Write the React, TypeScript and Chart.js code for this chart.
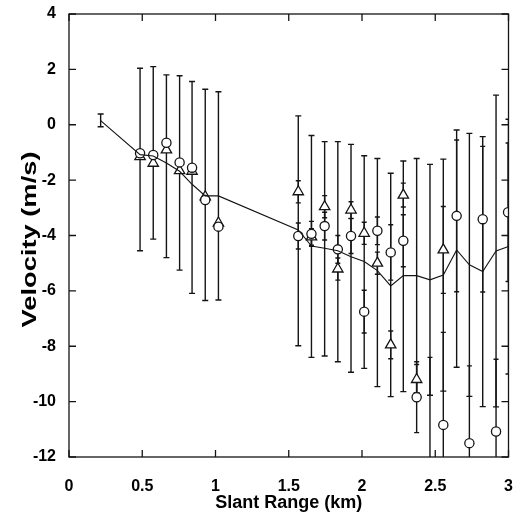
import { useEffect, useRef } from 'react';
import { Chart, registerables } from 'chart.js';

Chart.register(...registerables);

const FONT = '"Liberation Sans", Arial, Helvetica, sans-serif';

// axis ticks
const xTicks = [0, 0.5, 1, 1.5, 2, 2.5, 3];
const yTicks = [-12, -10, -8, -6, -4, -2, 0, 2, 4];
const xTitle = 'Slant Range (km)';
const yTitle = 'Velocity (m/s)';

// mean profile (line) with its error bars
const meanX = [0.216, 0.485, 0.575, 0.665, 0.755, 0.84, 0.93, 1.02, 1.565, 1.655, 1.745, 1.835, 1.925, 2.015, 2.105, 2.196, 2.282, 2.373, 2.464, 2.555, 2.646, 2.733, 2.824, 2.915, 3.0];
const meanY = [0.15, -1.08, -1.13, -1.38, -1.68, -2.15, -2.57, -2.57, -3.8, -4.38, -4.46, -4.55, -4.77, -4.94, -5.27, -5.82, -5.45, -5.45, -5.6, -5.43, -4.52, -5.06, -5.3, -4.56, -4.4];
const meanHigh = [0.39, 2.04, 2.1, 1.8, 1.77, 1.56, 1.28, 1.19, 0.32, -0.39, -0.61, -0.61, -0.71, -1.12, -1.22, -1.75, -1.31, -1.22, -1.43, -1.24, -0.19, -0.31, -0.43, 1.07, 0.2];
const meanLow = [-0.07, -4.55, -4.13, -4.8, -5.25, -6.09, -6.35, -6.33, -7.98, -8.4, -8.35, -8.56, -8.94, -8.8, -9.46, -9.82, -9.64, -9.68, -9.77, -9.62, -8.76, -9.81, -10.18, -10.19, -9.0];

// triangle measurements
const triX = [0.485, 0.575, 0.665, 0.755, 0.84, 0.93, 1.02, 1.565, 1.655, 1.745, 1.835, 1.925, 2.015, 2.105, 2.196, 2.282, 2.373, 2.555];
const triY = [-1.15, -1.39, -0.91, -1.66, -1.68, -2.6, -3.55, -2.42, -4.05, -2.96, -5.21, -3.08, -3.92, -5.0, -7.95, -2.54, -9.2, -4.52];
const triErr = [0, 0, 0, 0, 0, 0, 0, 0.4, 0.3, 0.4, 0.4, 0.3, 0.4, 0.4, 0.5, 0.43, 0.54, 1.57];

// circle measurements
const circX = [0.485, 0.575, 0.665, 0.755, 0.84, 0.93, 1.02, 1.565, 1.655, 1.745, 1.835, 1.925, 2.015, 2.105, 2.196, 2.282, 2.373, 2.464, 2.555, 2.646, 2.733, 2.824, 2.915, 2.997];
const circY = [-1.03, -1.09, -0.65, -1.36, -1.55, -2.72, -3.68, -4.02, -3.94, -3.66, -4.5, -4.02, -6.75, -3.83, -4.61, -4.19, -9.84, -13.2, -10.84, -3.29, -11.5, -3.41, -11.08, -3.16];
const circErr = [0, 0, 0, 0, 0, 0, 0, 0.47, 0.45, 0.5, 0.5, 0.63, 0.77, 0.5, 1.0, 0.94, 1.28, 4.8, 3.34, 2.74, 2.79, 2.63, 2.61, 2.5];

const INK = '#141414';

function drawBar(ctx: CanvasRenderingContext2D, xs: any, ys: any, x: number, hi: number, lo: number, cap: number, lw: number) {
  const px = xs.getPixelForValue(x);
  const pTop = ys.getPixelForValue(hi);
  const pBot = ys.getPixelForValue(lo);
  ctx.lineWidth = lw;
  ctx.beginPath();
  ctx.moveTo(px, pTop);
  ctx.lineTo(px, pBot);
  ctx.moveTo(px - cap, pTop);
  ctx.lineTo(px + cap, pTop);
  ctx.moveTo(px - cap, pBot);
  ctx.lineTo(px + cap, pBot);
  ctx.stroke();
}

const errorBarsPlugin = {
  id: 'errorBars',
  beforeDatasetsDraw(chart: any) {
    const { ctx, chartArea, scales } = chart;
    const xs = scales.x;
    const ys = scales.y;
    ctx.save();
    ctx.beginPath();
    ctx.rect(chartArea.left, chartArea.top, chartArea.right - chartArea.left, chartArea.bottom - chartArea.top);
    ctx.clip();
    ctx.strokeStyle = INK;
    meanX.forEach((x, i) => drawBar(ctx, xs, ys, x, meanHigh[i], meanLow[i], 3, 1.4));
    triX.forEach((x, i) => {
      if (triErr[i] > 0) drawBar(ctx, xs, ys, x, triY[i] + triErr[i], triY[i] - triErr[i], 2.5, 1.4);
    });
    circX.forEach((x, i) => {
      if (circErr[i] > 0) drawBar(ctx, xs, ys, x, circY[i] + circErr[i], circY[i] - circErr[i], 2.5, 1.4);
    });
    ctx.restore();
  },
};

const framePlugin = {
  id: 'frame',
  afterDraw(chart: any) {
    const { ctx, chartArea, scales } = chart;
    const { left, right, top, bottom } = chartArea;
    const xs = scales.x;
    const ys = scales.y;
    const tl = 7;
    ctx.save();
    ctx.strokeStyle = INK;
    ctx.lineWidth = 1.3;
    ctx.strokeRect(left, top, right - left, bottom - top);
    ctx.beginPath();
    xTicks.forEach((v) => {
      const p = xs.getPixelForValue(v);
      ctx.moveTo(p, bottom);
      ctx.lineTo(p, bottom - tl);
      ctx.moveTo(p, top);
      ctx.lineTo(p, top + tl);
    });
    yTicks.forEach((v) => {
      const p = ys.getPixelForValue(v);
      ctx.moveTo(left, p);
      ctx.lineTo(left + tl, p);
      ctx.moveTo(right, p);
      ctx.lineTo(right - tl, p);
    });
    ctx.stroke();
    // y axis title (stretched like the scanned original)
    ctx.fillStyle = '#000';
    ctx.translate(30, (top + bottom) / 2 + 4);
    ctx.rotate(-Math.PI / 2);
    ctx.scale(1.3, 1);
    ctx.font = `bold 21px ${FONT}`;
    ctx.textAlign = 'center';
    ctx.textBaseline = 'middle';
    ctx.fillText(yTitle, 0, 0);
    ctx.restore();
  },
};

export default function App() {
  const ref = useRef<HTMLCanvasElement | null>(null);

  useEffect(() => {
    document.body.style.margin = '0';
    const canvas = ref.current;
    if (!canvas) return;
    const chart = new Chart(canvas, {
      type: 'scatter',
      data: {
        datasets: [
          {
            type: 'scatter',
            label: 'circles',
            data: circX.map((x, i) => ({ x, y: circY[i] })),
            pointStyle: 'circle',
            pointRadius: 4.6,
            pointBackgroundColor: '#ffffff',
            pointBorderColor: INK,
            pointBorderWidth: 1.3,
            order: 1,
          },
          {
            type: 'scatter',
            label: 'triangles',
            data: triX.map((x, i) => ({ x, y: triY[i] })),
            pointStyle: 'triangle',
            pointRadius: 6,
            pointBackgroundColor: '#ffffff',
            pointBorderColor: INK,
            pointBorderWidth: 1.3,
            order: 2,
          },
          {
            type: 'line',
            label: 'mean',
            data: meanX.map((x, i) => ({ x, y: meanY[i] })),
            borderColor: INK,
            borderWidth: 1.1,
            pointRadius: 0,
            fill: false,
            tension: 0,
            order: 0,
          } as any,
        ],
      },
      options: {
        animation: false,
        responsive: false,
        devicePixelRatio: 1,
        layout: { padding: { top: 14, right: 7.5, left: 0, bottom: 0 } },
        plugins: { legend: { display: false }, tooltip: { enabled: false } },
        scales: {
          x: {
            type: 'linear',
            min: 0,
            max: 3,
            afterBuildTicks: (s: any) => {
              s.ticks = xTicks.map((v) => ({ value: v }));
            },
            afterFit: (s: any) => {
              s.height = 65;
              s.paddingLeft = 0;
              s.paddingRight = 0;
            },
            ticks: {
              color: '#000',
              padding: 20,
              maxRotation: 0,
              autoSkip: false,
              font: { family: FONT, size: 16, weight: 'bold' },
              callback: (v: any) => String(v),
            },
            grid: { display: false, drawTicks: false },
            border: { display: false },
            title: {
              display: true,
              text: xTitle,
              color: '#000',
              font: { family: FONT, size: 18, weight: 'bold' },
              padding: { top: 8, bottom: 8 },
            },
          },
          y: {
            type: 'linear',
            min: -12,
            max: 4,
            afterBuildTicks: (s: any) => {
              s.ticks = yTicks.map((v) => ({ value: v }));
            },
            afterFit: (s: any) => {
              s.width = 69;
              s.paddingTop = 0;
              s.paddingBottom = 0;
            },
            ticks: {
              color: '#000',
              padding: 13,
              autoSkip: false,
              font: { family: FONT, size: 16, weight: 'bold' },
              callback: (v: any) => String(v),
            },
            grid: { display: false, drawTicks: false },
            border: { display: false },
          },
        },
      } as any,
      plugins: [errorBarsPlugin, framePlugin],
    });
    return () => chart.destroy();
  }, []);

  return (
    <div style={{ position: 'fixed', left: 0, top: 0, width: 516, height: 522, background: '#fff' }}>
      <canvas ref={ref} width={516} height={522} />
    </div>
  );
}
